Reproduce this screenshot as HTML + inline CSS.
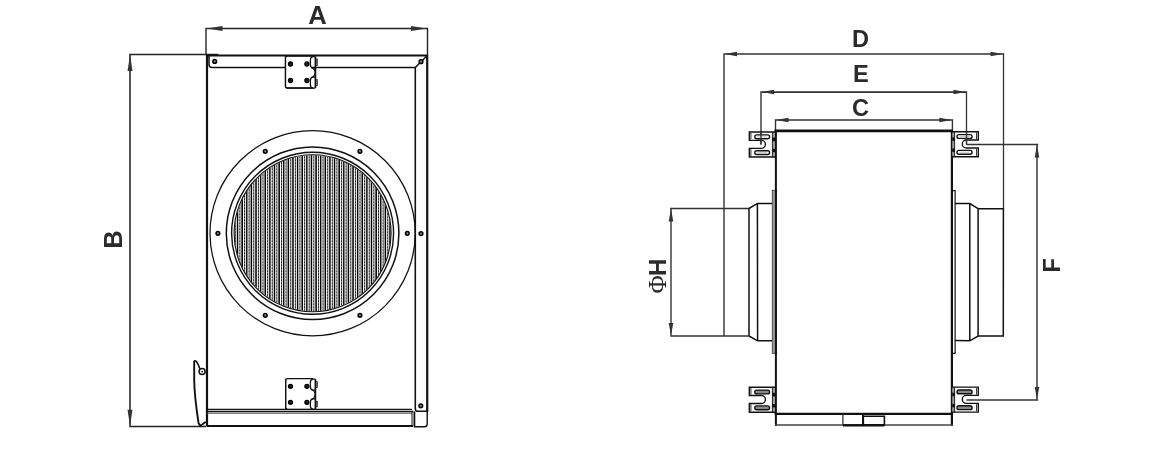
<!DOCTYPE html>
<html><head><meta charset="utf-8"><style>
html,body{margin:0;padding:0;background:#fff;width:1154px;height:450px;overflow:hidden;}
svg{display:block;will-change:transform;}
</style></head><body><svg width="1154" height="450" viewBox="0 0 1154 450"><line x1="206.0" y1="27.8" x2="206.0" y2="55" stroke="#333" stroke-width="1.5" />
<line x1="427.5" y1="27.8" x2="427.5" y2="55" stroke="#222" stroke-width="1.4" />
<line x1="206.5" y1="28.6" x2="427" y2="28.6" stroke="#222" stroke-width="1.5" />
<path d="M206.5,28.6 L222.50,26.10 L222.50,31.10 Z" fill="#333"/>
<path d="M427,28.6 L411.00,31.10 L411.00,26.10 Z" fill="#333"/>
<line x1="129.2" y1="54.4" x2="218.5" y2="54.4" stroke="#222" stroke-width="1.5" />
<line x1="129.2" y1="426.4" x2="206" y2="426.4" stroke="#222" stroke-width="1.5" />
<line x1="130.0" y1="55" x2="130.0" y2="425.8" stroke="#2a2a2a" stroke-width="1.6" />
<path d="M130.0,55 L132.50,71.00 L127.50,71.00 Z" fill="#333"/>
<path d="M130.0,425.8 L127.50,409.80 L132.50,409.80 Z" fill="#333"/>
<line x1="207" y1="55" x2="207" y2="426.5" stroke="#111" stroke-width="2.2" />
<line x1="206" y1="55.5" x2="428" y2="55.5" stroke="#111" stroke-width="2.2" />
<line x1="427.2" y1="55" x2="427.2" y2="412" stroke="#111" stroke-width="2.2" />
<path d="M209.0,56 L209.0,64.5 Q209.0,67.5 212,67.5 L415.3,67.5 L427,55.8" stroke="#111" stroke-width="1.5" fill="none" />
<path d="M415.3,67.5 L415.3,409 Q415.3,411.3 418,411.3 L427.5,411.3" stroke="#111" stroke-width="1.6" fill="none" />
<line x1="207" y1="409.3" x2="412" y2="409.3" stroke="#111" stroke-width="1.3" />
<line x1="207" y1="411.5" x2="413" y2="411.5" stroke="#111" stroke-width="1.6" />
<line x1="207" y1="413.2" x2="412" y2="413.2" stroke="#555" stroke-width="1.1" />
<line x1="207" y1="426" x2="413" y2="426" stroke="#111" stroke-width="2.0" />
<line x1="412" y1="411" x2="412" y2="426.5" stroke="#111" stroke-width="1.0" />
<line x1="413.8" y1="411" x2="413.8" y2="426.5" stroke="#666" stroke-width="1.0" />
<path d="M414.6,411.5 L414.6,426.8 L424.5,426.8 Q427.2,426.8 427.2,424 L427.2,411.5" stroke="#111" stroke-width="1.4" fill="none" />
<circle cx="214.70" cy="61.40" r="1.85" fill="#888" stroke="#000" stroke-width="1.5"/>
<circle cx="421.00" cy="61.70" r="1.85" fill="#888" stroke="#000" stroke-width="1.5"/>
<circle cx="421.00" cy="233.60" r="1.85" fill="#888" stroke="#000" stroke-width="1.5"/>
<circle cx="420.80" cy="405.80" r="1.85" fill="#888" stroke="#000" stroke-width="1.5"/>
<path d="M285.5,56.2 L285.5,86.0 Q285.5,88.0 287.5,88.0 L313,88.0" stroke="#111" stroke-width="1.3" fill="#fff" />
<rect x="286.2" y="56.7" width="25.5" height="30.6" fill="#fff"/>
<path d="M313,56.2 L287.5,56.2 Q285.5,56.2 285.5,58.2 L285.5,86.0" stroke="#111" stroke-width="1.3" fill="none" />
<path d="M285.5,86.0 Q285.5,88.0 287.5,88.0 L313,88.0" stroke="#111" stroke-width="1.3" fill="none" />
<circle cx="290.50" cy="64.00" r="1.95" fill="#222" stroke="#000" stroke-width="1.4"/>
<circle cx="290.50" cy="80.50" r="1.95" fill="#222" stroke="#000" stroke-width="1.4"/>
<circle cx="306.90" cy="64.00" r="1.95" fill="#222" stroke="#000" stroke-width="1.4"/>
<circle cx="306.90" cy="80.50" r="1.95" fill="#222" stroke="#000" stroke-width="1.4"/>
<path d="M315.4,56.6 L313.2,56.6 Q310.4,56.6 310.4,59.800000000000004 L310.4,64.766 Q310.4,67.96600000000001 313.2,67.96600000000001 L315.4,67.96600000000001" stroke="#111" stroke-width="1.25" fill="none" />
<rect x="315.9" y="59.20" width="1.3" height="6.17" fill="#fff" stroke="#111" stroke-width="1"/>
<path d="M315.4,77.188 L313.2,77.188 Q310.4,77.188 310.4,80.388 L310.4,84.8 Q310.4,88.0 313.2,88.0 L315.4,88.0" stroke="#111" stroke-width="1.25" fill="none" />
<rect x="315.9" y="79.79" width="1.3" height="5.61" fill="#fff" stroke="#111" stroke-width="1"/>
<line x1="315.4" y1="56.6" x2="315.4" y2="88.0" stroke="#111" stroke-width="1.7" />
<path d="M311.2,67.36600000000001 Q315.2,68.96600000000001 315.2,72.577 Q315.2,76.188 311.2,77.788" stroke="#111" stroke-width="1.1" fill="none" />
<path d="M285.7,378.7 L285.7,407.3 Q285.7,409.3 287.7,409.3 L313,409.3" stroke="#111" stroke-width="1.3" fill="#fff" />
<rect x="286.4" y="379.2" width="25.30000000000001" height="29.400000000000002" fill="#fff"/>
<path d="M313,378.7 L287.7,378.7 Q285.7,378.7 285.7,380.7 L285.7,407.3" stroke="#111" stroke-width="1.3" fill="none" />
<path d="M285.7,407.3 Q285.7,409.3 287.7,409.3 L313,409.3" stroke="#111" stroke-width="1.3" fill="none" />
<circle cx="290.50" cy="386.30" r="1.95" fill="#222" stroke="#000" stroke-width="1.4"/>
<circle cx="290.50" cy="402.30" r="1.95" fill="#222" stroke="#000" stroke-width="1.4"/>
<circle cx="306.90" cy="386.30" r="1.95" fill="#222" stroke="#000" stroke-width="1.4"/>
<circle cx="306.90" cy="402.30" r="1.95" fill="#222" stroke="#000" stroke-width="1.4"/>
<path d="M315.4,379.09999999999997 L313.2,379.09999999999997 Q310.4,379.09999999999997 310.4,382.29999999999995 L310.4,386.822 Q310.4,390.022 313.2,390.022 L315.4,390.022" stroke="#111" stroke-width="1.25" fill="none" />
<rect x="315.9" y="381.70" width="1.3" height="5.72" fill="#fff" stroke="#111" stroke-width="1"/>
<path d="M315.4,398.896 L313.2,398.896 Q310.4,398.896 310.4,402.096 L310.4,406.1 Q310.4,409.3 313.2,409.3 L315.4,409.3" stroke="#111" stroke-width="1.25" fill="none" />
<rect x="315.9" y="401.50" width="1.3" height="5.20" fill="#fff" stroke="#111" stroke-width="1"/>
<line x1="315.4" y1="379.09999999999997" x2="315.4" y2="409.3" stroke="#111" stroke-width="1.7" />
<path d="M311.2,389.42199999999997 Q315.2,391.022 315.2,394.459 Q315.2,397.896 311.2,399.49600000000004" stroke="#111" stroke-width="1.1" fill="none" />
<circle cx="312.6" cy="233.3" r="102.6" stroke="#111" stroke-width="1.25" fill="none"/>
<circle cx="312.6" cy="233.3" r="86.3" stroke="#111" stroke-width="1.5" fill="none"/>
<defs><clipPath id="gc"><circle cx="312.6" cy="233.3" r="78.0"/></clipPath></defs>
<g clip-path="url(#gc)"><rect x="232.60000000000002" y="153.3" width="160" height="160" fill="#8a8a8a"/><rect x="232.30" y="153.3" width="1.45" height="160" fill="#000"/><rect x="233.75" y="153.3" width="1.1" height="160" fill="#fff"/><line x1="235.30" y1="153.3" x2="235.30" y2="313.3" stroke="#111" stroke-width="0.9" stroke-dasharray="2 1"/><rect x="235.90" y="153.3" width="0.9" height="160" fill="#f4f4f4"/><rect x="236.92" y="153.3" width="1.45" height="160" fill="#000"/><rect x="238.37" y="153.3" width="1.1" height="160" fill="#fff"/><line x1="239.92" y1="153.3" x2="239.92" y2="313.3" stroke="#111" stroke-width="0.9" stroke-dasharray="2 1"/><rect x="240.52" y="153.3" width="0.9" height="160" fill="#f4f4f4"/><rect x="241.54" y="153.3" width="1.45" height="160" fill="#000"/><rect x="242.99" y="153.3" width="1.1" height="160" fill="#fff"/><line x1="244.54" y1="153.3" x2="244.54" y2="313.3" stroke="#111" stroke-width="0.9" stroke-dasharray="2 1"/><rect x="245.14" y="153.3" width="0.9" height="160" fill="#f4f4f4"/><rect x="246.16" y="153.3" width="1.45" height="160" fill="#000"/><rect x="247.61" y="153.3" width="1.1" height="160" fill="#fff"/><line x1="249.16" y1="153.3" x2="249.16" y2="313.3" stroke="#111" stroke-width="0.9" stroke-dasharray="2 1"/><rect x="249.76" y="153.3" width="0.9" height="160" fill="#f4f4f4"/><rect x="250.78" y="153.3" width="1.45" height="160" fill="#000"/><rect x="252.23" y="153.3" width="1.1" height="160" fill="#fff"/><line x1="253.78" y1="153.3" x2="253.78" y2="313.3" stroke="#111" stroke-width="0.9" stroke-dasharray="2 1"/><rect x="254.38" y="153.3" width="0.9" height="160" fill="#f4f4f4"/><rect x="255.40" y="153.3" width="1.45" height="160" fill="#000"/><rect x="256.85" y="153.3" width="1.1" height="160" fill="#fff"/><line x1="258.40" y1="153.3" x2="258.40" y2="313.3" stroke="#111" stroke-width="0.9" stroke-dasharray="2 1"/><rect x="259.00" y="153.3" width="0.9" height="160" fill="#f4f4f4"/><rect x="260.02" y="153.3" width="1.45" height="160" fill="#000"/><rect x="261.47" y="153.3" width="1.1" height="160" fill="#fff"/><line x1="263.02" y1="153.3" x2="263.02" y2="313.3" stroke="#111" stroke-width="0.9" stroke-dasharray="2 1"/><rect x="263.62" y="153.3" width="0.9" height="160" fill="#f4f4f4"/><rect x="264.64" y="153.3" width="1.45" height="160" fill="#000"/><rect x="266.09" y="153.3" width="1.1" height="160" fill="#fff"/><line x1="267.64" y1="153.3" x2="267.64" y2="313.3" stroke="#111" stroke-width="0.9" stroke-dasharray="2 1"/><rect x="268.24" y="153.3" width="0.9" height="160" fill="#f4f4f4"/><rect x="269.26" y="153.3" width="1.45" height="160" fill="#000"/><rect x="270.71" y="153.3" width="1.1" height="160" fill="#fff"/><line x1="272.26" y1="153.3" x2="272.26" y2="313.3" stroke="#111" stroke-width="0.9" stroke-dasharray="2 1"/><rect x="272.86" y="153.3" width="0.9" height="160" fill="#f4f4f4"/><rect x="273.88" y="153.3" width="1.45" height="160" fill="#000"/><rect x="275.33" y="153.3" width="1.1" height="160" fill="#fff"/><line x1="276.88" y1="153.3" x2="276.88" y2="313.3" stroke="#111" stroke-width="0.9" stroke-dasharray="2 1"/><rect x="277.48" y="153.3" width="0.9" height="160" fill="#f4f4f4"/><rect x="278.50" y="153.3" width="1.45" height="160" fill="#000"/><rect x="279.95" y="153.3" width="1.1" height="160" fill="#fff"/><line x1="281.50" y1="153.3" x2="281.50" y2="313.3" stroke="#111" stroke-width="0.9" stroke-dasharray="2 1"/><rect x="282.10" y="153.3" width="0.9" height="160" fill="#f4f4f4"/><rect x="283.12" y="153.3" width="1.45" height="160" fill="#000"/><rect x="284.57" y="153.3" width="1.1" height="160" fill="#fff"/><line x1="286.12" y1="153.3" x2="286.12" y2="313.3" stroke="#111" stroke-width="0.9" stroke-dasharray="2 1"/><rect x="286.72" y="153.3" width="0.9" height="160" fill="#f4f4f4"/><rect x="287.74" y="153.3" width="1.45" height="160" fill="#000"/><rect x="289.19" y="153.3" width="1.1" height="160" fill="#fff"/><line x1="290.74" y1="153.3" x2="290.74" y2="313.3" stroke="#111" stroke-width="0.9" stroke-dasharray="2 1"/><rect x="291.34" y="153.3" width="0.9" height="160" fill="#f4f4f4"/><rect x="292.36" y="153.3" width="1.45" height="160" fill="#000"/><rect x="293.81" y="153.3" width="1.1" height="160" fill="#fff"/><line x1="295.36" y1="153.3" x2="295.36" y2="313.3" stroke="#111" stroke-width="0.9" stroke-dasharray="2 1"/><rect x="295.96" y="153.3" width="0.9" height="160" fill="#f4f4f4"/><rect x="296.98" y="153.3" width="1.45" height="160" fill="#000"/><rect x="298.43" y="153.3" width="1.1" height="160" fill="#fff"/><line x1="299.98" y1="153.3" x2="299.98" y2="313.3" stroke="#111" stroke-width="0.9" stroke-dasharray="2 1"/><rect x="300.58" y="153.3" width="0.9" height="160" fill="#f4f4f4"/><rect x="301.60" y="153.3" width="1.45" height="160" fill="#000"/><rect x="303.05" y="153.3" width="1.1" height="160" fill="#fff"/><line x1="304.60" y1="153.3" x2="304.60" y2="313.3" stroke="#111" stroke-width="0.9" stroke-dasharray="2 1"/><rect x="305.20" y="153.3" width="0.9" height="160" fill="#f4f4f4"/><rect x="306.22" y="153.3" width="1.45" height="160" fill="#000"/><rect x="307.67" y="153.3" width="1.1" height="160" fill="#fff"/><line x1="309.22" y1="153.3" x2="309.22" y2="313.3" stroke="#111" stroke-width="0.9" stroke-dasharray="2 1"/><rect x="309.82" y="153.3" width="0.9" height="160" fill="#f4f4f4"/><rect x="310.84" y="153.3" width="1.45" height="160" fill="#000"/><rect x="312.29" y="153.3" width="1.1" height="160" fill="#fff"/><line x1="313.84" y1="153.3" x2="313.84" y2="313.3" stroke="#111" stroke-width="0.9" stroke-dasharray="2 1"/><rect x="314.44" y="153.3" width="0.9" height="160" fill="#f4f4f4"/><rect x="315.46" y="153.3" width="1.45" height="160" fill="#000"/><rect x="316.91" y="153.3" width="1.1" height="160" fill="#fff"/><line x1="318.46" y1="153.3" x2="318.46" y2="313.3" stroke="#111" stroke-width="0.9" stroke-dasharray="2 1"/><rect x="319.06" y="153.3" width="0.9" height="160" fill="#f4f4f4"/><rect x="320.08" y="153.3" width="1.45" height="160" fill="#000"/><rect x="321.53" y="153.3" width="1.1" height="160" fill="#fff"/><line x1="323.08" y1="153.3" x2="323.08" y2="313.3" stroke="#111" stroke-width="0.9" stroke-dasharray="2 1"/><rect x="323.68" y="153.3" width="0.9" height="160" fill="#f4f4f4"/><rect x="324.70" y="153.3" width="1.45" height="160" fill="#000"/><rect x="326.15" y="153.3" width="1.1" height="160" fill="#fff"/><line x1="327.70" y1="153.3" x2="327.70" y2="313.3" stroke="#111" stroke-width="0.9" stroke-dasharray="2 1"/><rect x="328.30" y="153.3" width="0.9" height="160" fill="#f4f4f4"/><rect x="329.32" y="153.3" width="1.45" height="160" fill="#000"/><rect x="330.77" y="153.3" width="1.1" height="160" fill="#fff"/><line x1="332.32" y1="153.3" x2="332.32" y2="313.3" stroke="#111" stroke-width="0.9" stroke-dasharray="2 1"/><rect x="332.92" y="153.3" width="0.9" height="160" fill="#f4f4f4"/><rect x="333.94" y="153.3" width="1.45" height="160" fill="#000"/><rect x="335.39" y="153.3" width="1.1" height="160" fill="#fff"/><line x1="336.94" y1="153.3" x2="336.94" y2="313.3" stroke="#111" stroke-width="0.9" stroke-dasharray="2 1"/><rect x="337.54" y="153.3" width="0.9" height="160" fill="#f4f4f4"/><rect x="338.56" y="153.3" width="1.45" height="160" fill="#000"/><rect x="340.01" y="153.3" width="1.1" height="160" fill="#fff"/><line x1="341.56" y1="153.3" x2="341.56" y2="313.3" stroke="#111" stroke-width="0.9" stroke-dasharray="2 1"/><rect x="342.16" y="153.3" width="0.9" height="160" fill="#f4f4f4"/><rect x="343.18" y="153.3" width="1.45" height="160" fill="#000"/><rect x="344.63" y="153.3" width="1.1" height="160" fill="#fff"/><line x1="346.18" y1="153.3" x2="346.18" y2="313.3" stroke="#111" stroke-width="0.9" stroke-dasharray="2 1"/><rect x="346.78" y="153.3" width="0.9" height="160" fill="#f4f4f4"/><rect x="347.80" y="153.3" width="1.45" height="160" fill="#000"/><rect x="349.25" y="153.3" width="1.1" height="160" fill="#fff"/><line x1="350.80" y1="153.3" x2="350.80" y2="313.3" stroke="#111" stroke-width="0.9" stroke-dasharray="2 1"/><rect x="351.40" y="153.3" width="0.9" height="160" fill="#f4f4f4"/><rect x="352.42" y="153.3" width="1.45" height="160" fill="#000"/><rect x="353.87" y="153.3" width="1.1" height="160" fill="#fff"/><line x1="355.42" y1="153.3" x2="355.42" y2="313.3" stroke="#111" stroke-width="0.9" stroke-dasharray="2 1"/><rect x="356.02" y="153.3" width="0.9" height="160" fill="#f4f4f4"/><rect x="357.04" y="153.3" width="1.45" height="160" fill="#000"/><rect x="358.49" y="153.3" width="1.1" height="160" fill="#fff"/><line x1="360.04" y1="153.3" x2="360.04" y2="313.3" stroke="#111" stroke-width="0.9" stroke-dasharray="2 1"/><rect x="360.64" y="153.3" width="0.9" height="160" fill="#f4f4f4"/><rect x="361.66" y="153.3" width="1.45" height="160" fill="#000"/><rect x="363.11" y="153.3" width="1.1" height="160" fill="#fff"/><line x1="364.66" y1="153.3" x2="364.66" y2="313.3" stroke="#111" stroke-width="0.9" stroke-dasharray="2 1"/><rect x="365.26" y="153.3" width="0.9" height="160" fill="#f4f4f4"/><rect x="366.28" y="153.3" width="1.45" height="160" fill="#000"/><rect x="367.73" y="153.3" width="1.1" height="160" fill="#fff"/><line x1="369.28" y1="153.3" x2="369.28" y2="313.3" stroke="#111" stroke-width="0.9" stroke-dasharray="2 1"/><rect x="369.88" y="153.3" width="0.9" height="160" fill="#f4f4f4"/><rect x="370.90" y="153.3" width="1.45" height="160" fill="#000"/><rect x="372.35" y="153.3" width="1.1" height="160" fill="#fff"/><line x1="373.90" y1="153.3" x2="373.90" y2="313.3" stroke="#111" stroke-width="0.9" stroke-dasharray="2 1"/><rect x="374.50" y="153.3" width="0.9" height="160" fill="#f4f4f4"/><rect x="375.52" y="153.3" width="1.45" height="160" fill="#000"/><rect x="376.97" y="153.3" width="1.1" height="160" fill="#fff"/><line x1="378.52" y1="153.3" x2="378.52" y2="313.3" stroke="#111" stroke-width="0.9" stroke-dasharray="2 1"/><rect x="379.12" y="153.3" width="0.9" height="160" fill="#f4f4f4"/><rect x="380.14" y="153.3" width="1.45" height="160" fill="#000"/><rect x="381.59" y="153.3" width="1.1" height="160" fill="#fff"/><line x1="383.14" y1="153.3" x2="383.14" y2="313.3" stroke="#111" stroke-width="0.9" stroke-dasharray="2 1"/><rect x="383.74" y="153.3" width="0.9" height="160" fill="#f4f4f4"/><rect x="384.76" y="153.3" width="1.45" height="160" fill="#000"/><rect x="386.21" y="153.3" width="1.1" height="160" fill="#fff"/><line x1="387.76" y1="153.3" x2="387.76" y2="313.3" stroke="#111" stroke-width="0.9" stroke-dasharray="2 1"/><rect x="388.36" y="153.3" width="0.9" height="160" fill="#f4f4f4"/><rect x="389.38" y="153.3" width="1.45" height="160" fill="#000"/><rect x="390.83" y="153.3" width="1.1" height="160" fill="#fff"/><line x1="392.38" y1="153.3" x2="392.38" y2="313.3" stroke="#111" stroke-width="0.9" stroke-dasharray="2 1"/><rect x="392.98" y="153.3" width="0.9" height="160" fill="#f4f4f4"/></g>
<circle cx="312.6" cy="233.3" r="81.0" stroke="#111" stroke-width="1.4" fill="none"/>
<circle cx="312.6" cy="233.3" r="78.5" stroke="#111" stroke-width="1.1" fill="none"/>
<circle cx="407.30" cy="233.30" r="1.85" fill="#888" stroke="#000" stroke-width="1.5"/>
<circle cx="359.95" cy="315.31" r="1.85" fill="#888" stroke="#000" stroke-width="1.5"/>
<circle cx="265.25" cy="315.31" r="1.85" fill="#888" stroke="#000" stroke-width="1.5"/>
<circle cx="217.90" cy="233.30" r="1.85" fill="#888" stroke="#000" stroke-width="1.5"/>
<circle cx="265.25" cy="151.29" r="1.85" fill="#888" stroke="#000" stroke-width="1.5"/>
<circle cx="359.95" cy="151.29" r="1.85" fill="#888" stroke="#000" stroke-width="1.5"/>
<path d="M194.2,361.5 L194.2,380 Q194.4,396 198.6,423.4 L200.3,425.9 L205.8,421.8" stroke="#111" stroke-width="1.9" fill="none" />
<path d="M193.9,362 Q194.6,359.8 196.6,361.8 Q198.6,364.5 199.8,368.8" stroke="#111" stroke-width="1.6" fill="none" />
<circle cx="202.1" cy="371.6" r="3.0" stroke="#111" stroke-width="1.5" fill="#fff"/>
<circle cx="202.1" cy="371.6" r="0.9" fill="#111"/>
<line x1="724.0" y1="53.2" x2="724.0" y2="336.0" stroke="#333" stroke-width="1.4" />
<line x1="1003.5" y1="53.2" x2="1003.5" y2="209" stroke="#333" stroke-width="1.3" />
<line x1="724.5" y1="54.0" x2="1003" y2="54.0" stroke="#333" stroke-width="1.5" />
<path d="M724.5,54.0 L737.00,51.70 L737.00,56.30 Z" fill="#333"/>
<path d="M1003,54.0 L990.50,56.30 L990.50,51.70 Z" fill="#333"/>
<line x1="761.0" y1="91.2" x2="761.0" y2="144.4" stroke="#333" stroke-width="1.4" />
<line x1="966.5" y1="91.2" x2="966.5" y2="144.4" stroke="#333" stroke-width="1.3" />
<line x1="761.5" y1="92.0" x2="966" y2="92.0" stroke="#333" stroke-width="1.75" />
<path d="M761.5,92.0 L774.00,89.70 L774.00,94.30 Z" fill="#333"/>
<path d="M966,92.0 L953.50,94.30 L953.50,89.70 Z" fill="#333"/>
<line x1="775.5" y1="119.2" x2="775.5" y2="131" stroke="#333" stroke-width="1.4" />
<line x1="952.4" y1="119.2" x2="952.4" y2="131" stroke="#333" stroke-width="1.4" />
<line x1="776" y1="120.0" x2="951.9" y2="120.0" stroke="#333" stroke-width="1.7" />
<path d="M776,120.0 L788.50,117.70 L788.50,122.30 Z" fill="#333"/>
<path d="M951.9,120.0 L939.40,122.30 L939.40,117.70 Z" fill="#333"/>
<line x1="670" y1="208.5" x2="749" y2="208.5" stroke="#333" stroke-width="1.3" />
<line x1="670.3" y1="336.0" x2="749" y2="336.0" stroke="#333" stroke-width="1.4" />
<line x1="671.0" y1="209" x2="671.0" y2="335.5" stroke="#333" stroke-width="1.4" />
<path d="M671.0,209 L673.30,221.50 L668.70,221.50 Z" fill="#333"/>
<path d="M671.0,335.5 L668.70,323.00 L673.30,323.00 Z" fill="#333"/>
<line x1="966.5" y1="144.5" x2="1038.2" y2="144.5" stroke="#333" stroke-width="1.3" />
<line x1="966.5" y1="400.0" x2="1038.2" y2="400.0" stroke="#333" stroke-width="1.4" />
<line x1="1037.0" y1="145" x2="1037.0" y2="399.5" stroke="#333" stroke-width="1.45" />
<path d="M1037.0,145 L1039.30,157.50 L1034.70,157.50 Z" fill="#333"/>
<path d="M1037.0,399.5 L1034.70,387.00 L1039.30,387.00 Z" fill="#333"/>
<line x1="775.9" y1="130" x2="775.9" y2="426" stroke="#111" stroke-width="2.0" />
<line x1="951.9" y1="130" x2="951.9" y2="426" stroke="#111" stroke-width="2.2" />
<line x1="774.6" y1="130.9" x2="953" y2="130.9" stroke="#111" stroke-width="2.6" />
<line x1="774.6" y1="413.9" x2="953" y2="413.9" stroke="#111" stroke-width="2.4" />
<line x1="775" y1="425" x2="953" y2="425" stroke="#444" stroke-width="1.6" />
<path d="M842.9,414 L842.9,424.8 L863.1,424.8 L863.1,414" stroke="#333" stroke-width="1.3" fill="none" />
<path d="M863.1,416.3 L884.4,416.3 L884.4,424.8 L863.1,424.8 Z" stroke="#111" stroke-width="1.6" fill="none" />
<line x1="863.1" y1="414" x2="863.1" y2="425" stroke="#111" stroke-width="2.0" />
<line x1="843" y1="425.4" x2="884.6" y2="425.4" stroke="#111" stroke-width="2.2" />
<rect x="772.6" y="132.0" width="2.4" height="25.0" fill="#9a9a9a"/>
<path d="M775.2,132.0 L749.3,132.0 L749.3,140.3 L761.4,140.3 A4.0,4.0 0 0 1 761.4,148.3 L749.3,148.3 L749.3,157.0 L775.2,157.0" stroke="#111" stroke-width="1.35" fill="none" />
<line x1="750.9" y1="132.8" x2="750.9" y2="139.5" stroke="#111" stroke-width="0.9" />
<line x1="750.9" y1="149.10000000000002" x2="750.9" y2="156.2" stroke="#111" stroke-width="0.9" />
<line x1="772.4" y1="132.0" x2="772.4" y2="157.0" stroke="#111" stroke-width="0.9" />
<rect x="772.2" y="137.6" width="2.8" height="3.6" fill="#111"/>
<rect x="772.2" y="148.8" width="2.8" height="3.4" fill="#111"/>
<rect x="754.8" y="134.9" width="14.8" height="3.8" rx="1.9" fill="#fff" stroke="#111" stroke-width="1.4"/>
<line x1="757.3" y1="136.8" x2="767.0999999999999" y2="136.8" stroke="#aaa" stroke-width="0.6" />
<rect x="754.8" y="150.7" width="14.8" height="3.8" rx="1.9" fill="#fff" stroke="#111" stroke-width="1.4"/>
<line x1="757.3" y1="152.6" x2="767.0999999999999" y2="152.6" stroke="#aaa" stroke-width="0.6" />
<rect x="952.2" y="131.7" width="2.3" height="25.0" fill="#9a9a9a"/>
<path d="M951.8,131.7 L978.3,131.7 L978.3,140.0 L966.3,140.0 A4.0,4.0 0 0 0 966.3,148.0 L978.3,148.0 L978.3,156.7 L951.8,156.7" stroke="#111" stroke-width="1.35" fill="none" />
<line x1="976.5999999999999" y1="132.5" x2="976.5999999999999" y2="139.2" stroke="#111" stroke-width="0.9" />
<line x1="976.5999999999999" y1="148.8" x2="976.5999999999999" y2="155.89999999999998" stroke="#111" stroke-width="0.9" />
<line x1="954.6" y1="131.7" x2="954.6" y2="156.7" stroke="#111" stroke-width="0.9" />
<rect x="952.2" y="137.29999999999998" width="2.8" height="3.6" fill="#111"/>
<rect x="952.2" y="148.5" width="2.8" height="3.4" fill="#111"/>
<rect x="957.0" y="134.6" width="15.1" height="3.8" rx="1.9" fill="#fff" stroke="#111" stroke-width="1.4"/>
<line x1="959.5" y1="136.5" x2="969.6" y2="136.5" stroke="#aaa" stroke-width="0.6" />
<rect x="957.0" y="150.39999999999998" width="15.1" height="3.8" rx="1.9" fill="#fff" stroke="#111" stroke-width="1.4"/>
<line x1="959.5" y1="152.29999999999998" x2="969.6" y2="152.29999999999998" stroke="#aaa" stroke-width="0.6" />
<rect x="772.6" y="387.2" width="2.4" height="25.0" fill="#9a9a9a"/>
<path d="M775.2,387.2 L749.3,387.2 L749.3,395.5 L761.4,395.5 A4.0,4.0 0 0 1 761.4,403.5 L749.3,403.5 L749.3,412.2 L775.2,412.2" stroke="#111" stroke-width="1.35" fill="none" />
<line x1="750.9" y1="388.0" x2="750.9" y2="394.7" stroke="#111" stroke-width="0.9" />
<line x1="750.9" y1="404.3" x2="750.9" y2="411.4" stroke="#111" stroke-width="0.9" />
<line x1="772.4" y1="387.2" x2="772.4" y2="412.2" stroke="#111" stroke-width="0.9" />
<rect x="772.2" y="392.8" width="2.8" height="3.6" fill="#111"/>
<rect x="772.2" y="404.0" width="2.8" height="3.4" fill="#111"/>
<rect x="754.8" y="390.1" width="14.8" height="3.8" rx="1.9" fill="#8a8a8a" stroke="#111" stroke-width="1.4"/>
<rect x="754.8" y="405.90000000000003" width="14.8" height="3.8" rx="1.9" fill="#8a8a8a" stroke="#111" stroke-width="1.4"/>
<rect x="952.2" y="387.1" width="2.3" height="25.0" fill="#9a9a9a"/>
<path d="M951.8,387.1 L978.3,387.1 L978.3,395.40000000000003 L966.3,395.40000000000003 A4.0,4.0 0 0 0 966.3,403.40000000000003 L978.3,403.40000000000003 L978.3,412.1 L951.8,412.1" stroke="#111" stroke-width="1.35" fill="none" />
<line x1="976.5999999999999" y1="387.90000000000003" x2="976.5999999999999" y2="394.6" stroke="#111" stroke-width="0.9" />
<line x1="976.5999999999999" y1="404.20000000000005" x2="976.5999999999999" y2="411.3" stroke="#111" stroke-width="0.9" />
<line x1="954.6" y1="387.1" x2="954.6" y2="412.1" stroke="#111" stroke-width="0.9" />
<rect x="952.2" y="392.70000000000005" width="2.8" height="3.6" fill="#111"/>
<rect x="952.2" y="403.90000000000003" width="2.8" height="3.4" fill="#111"/>
<rect x="957.0" y="390.00000000000006" width="15.1" height="3.8" rx="1.9" fill="#8a8a8a" stroke="#111" stroke-width="1.4"/>
<rect x="957.0" y="405.80000000000007" width="15.1" height="3.8" rx="1.9" fill="#8a8a8a" stroke="#111" stroke-width="1.4"/>
<line x1="761.0" y1="132" x2="761.0" y2="144.4" stroke="#333" stroke-width="1.4" />
<line x1="966.5" y1="131.7" x2="966.5" y2="144.5" stroke="#333" stroke-width="1.3" />
<path d="M749,208.5 L749,336.0 M749,208.5 L757.4,203.4 L772.2,203.4 M749,336.0 L757.6,340.8 L772.2,340.7 M757.4,203.4 L757.6,340.7" stroke="#111" stroke-width="1.5" fill="none" />
<rect x="772.3" y="190.3" width="3" height="163" fill="#9a9a9a" stroke="#444" stroke-width="0.9"/>
<line x1="775.9" y1="189" x2="775.9" y2="355" stroke="#111" stroke-width="1.7" />
<path d="M1003.4,208.7 L1003.3,336.0 L978.1,336.0 L969.8,340.8 L954.4,340.6 M978.1,208.7 L1003.3,208.7 M978.1,208.7 L969.8,203.6 L954.4,203.6 M969.8,203.6 L969.8,340.6 M978.1,208.7 L978.1,336.0" stroke="#111" stroke-width="1.5" fill="none" />
<rect x="952.4" y="190.6" width="2.7" height="162.7" fill="#fff" stroke="#111" stroke-width="1.2"/>
<text x="317.6" y="23.9" font-family="Liberation Sans, sans-serif" font-weight="bold" font-size="25.6" fill="#2b2b2b" text-anchor="middle">A</text>
<text x="121.8" y="239.4" font-family="Liberation Sans, sans-serif" font-weight="bold" font-size="25.6" fill="#2b2b2b" text-anchor="middle" transform="rotate(-90 121.8 239.4)">B</text>
<text x="860.4" y="46.8" font-family="Liberation Sans, sans-serif" font-weight="bold" font-size="23.6" fill="#2b2b2b" text-anchor="middle">D</text>
<text x="860.9" y="82" font-family="Liberation Sans, sans-serif" font-weight="bold" font-size="23.6" fill="#2b2b2b" text-anchor="middle">E</text>
<text x="860.6" y="116.4" font-family="Liberation Sans, sans-serif" font-weight="bold" font-size="23.6" fill="#2b2b2b" text-anchor="middle">C</text>
<text x="1060.2" y="265.3" font-family="Liberation Sans, sans-serif" font-weight="bold" font-size="23.6" fill="#2b2b2b" text-anchor="middle" transform="rotate(-90 1060.2 265.3)">F</text>
<text transform="translate(666,276) rotate(-90)" font-family="Liberation Sans, sans-serif" fill="#2b2b2b"><tspan font-family="Liberation Serif, serif" font-size="25" font-weight="normal" x="-17.5" y="0">Φ</tspan><tspan font-size="24" font-weight="bold" x="0" y="0">H</tspan></text></svg></body></html>
